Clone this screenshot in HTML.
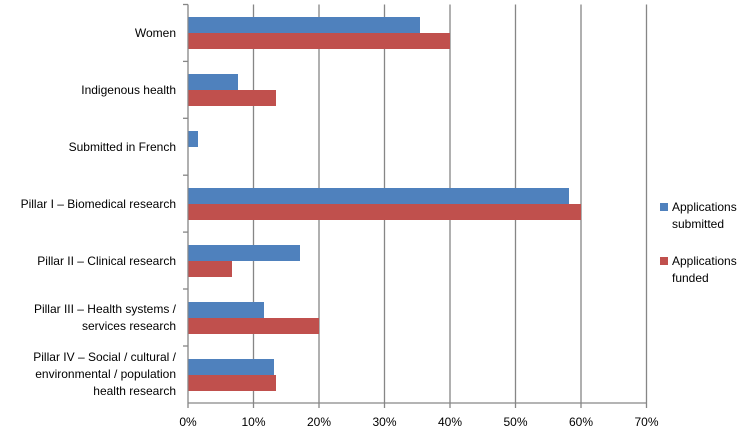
<!DOCTYPE html>
<html><head><style>body{margin:0;background:#fff}</style></head><body>
<svg width="752" height="442" xmlns="http://www.w3.org/2000/svg" font-family="Liberation Sans, sans-serif" font-size="12" fill="#000">
<rect width="752" height="442" fill="#fff"/>
<g stroke="#868686" stroke-width="1.3">
<line x1="253.5" y1="4.5" x2="253.5" y2="403"/><line x1="319" y1="4.5" x2="319" y2="403"/><line x1="384.5" y1="4.5" x2="384.5" y2="403"/><line x1="450" y1="4.5" x2="450" y2="403"/><line x1="515.5" y1="4.5" x2="515.5" y2="403"/><line x1="581" y1="4.5" x2="581" y2="403"/><line x1="646.5" y1="4.5" x2="646.5" y2="403"/>
<line x1="188" y1="4.5" x2="188" y2="403"/><line x1="188" y1="403" x2="646.5" y2="403"/>
<line x1="183" y1="4.5" x2="188" y2="4.5"/><line x1="183" y1="61.4" x2="188" y2="61.4"/><line x1="183" y1="118.3" x2="188" y2="118.3"/><line x1="183" y1="175.2" x2="188" y2="175.2"/><line x1="183" y1="232.1" x2="188" y2="232.1"/><line x1="183" y1="289" x2="188" y2="289"/><line x1="183" y1="346" x2="188" y2="346"/>
<line x1="188" y1="403" x2="188" y2="408"/><line x1="253.5" y1="403" x2="253.5" y2="408"/><line x1="319" y1="403" x2="319" y2="408"/><line x1="384.5" y1="403" x2="384.5" y2="408"/><line x1="450" y1="403" x2="450" y2="408"/><line x1="515.5" y1="403" x2="515.5" y2="408"/><line x1="581" y1="403" x2="581" y2="408"/><line x1="646.5" y1="403" x2="646.5" y2="408"/>
</g>
<g fill="#4f81bd">
<rect x="188.5" y="17" width="231.5" height="16"/>
<rect x="188.5" y="74" width="49.5" height="16"/>
<rect x="188.5" y="131" width="9.5" height="16"/>
<rect x="188.5" y="188" width="380.5" height="16"/>
<rect x="188.5" y="245" width="111.5" height="16"/>
<rect x="188.5" y="302" width="75.5" height="16"/>
<rect x="188.5" y="359" width="85.5" height="16"/>
</g>
<g fill="#c0504d">
<rect x="188.5" y="33" width="261.5" height="16"/>
<rect x="188.5" y="90" width="87.5" height="16"/>
<rect x="188.5" y="204" width="392.5" height="16"/>
<rect x="188.5" y="261" width="43.5" height="16"/>
<rect x="188.5" y="318" width="130.5" height="16"/>
<rect x="188.5" y="375" width="87.5" height="16"/>
</g>
<g text-anchor="end">
<text x="176" y="37">Women</text>
<text x="176" y="94">Indigenous health</text>
<text x="176" y="151">Submitted in French</text>
<text x="176" y="208">Pillar I – Biomedical research</text>
<text x="176" y="265">Pillar II – Clinical research</text>
<text x="176" y="313">Pillar III – Health systems /</text>
<text x="176" y="330">services research</text>
<text x="176" y="361">Pillar IV – Social / cultural /</text>
<text x="176" y="378">environmental / population</text>
<text x="176" y="395">health research</text>
</g>
<g text-anchor="middle">
<text x="188" y="426">0%</text><text x="253.5" y="426">10%</text><text x="319" y="426">20%</text><text x="384.5" y="426">30%</text><text x="450" y="426">40%</text><text x="515.5" y="426">50%</text><text x="581" y="426">60%</text><text x="646.5" y="426">70%</text>
</g>
<rect x="660" y="203" width="8" height="8" fill="#4f81bd"/>
<text x="672" y="211">Applications</text><text x="672" y="228">submitted</text>
<rect x="660" y="257" width="8" height="8" fill="#c0504d"/>
<text x="672" y="265">Applications</text><text x="672" y="282">funded</text>
</svg>
</body></html>
